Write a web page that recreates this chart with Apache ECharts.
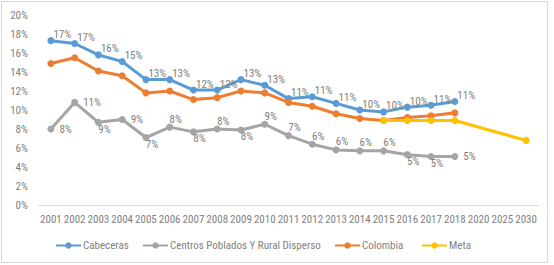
<!DOCTYPE html>
<html><head><meta charset="utf-8">
<script src="https://cdn.jsdelivr.net/npm/echarts@6/dist/echarts.min.js"></script>
<style>html,body{margin:0;padding:0;background:#fff}#c{width:554px;height:265px}
#c svg text, #c svg tspan{font-stretch:condensed !important;}</style>
</head><body><div id="c"></div>
<script>
const categories = ['2001','2002','2003','2004','2005','2006','2007','2008','2009','2010','2011','2012','2013','2014','2015','2016','2017','2018','2020','2025','2030'];
const cabeceras = [17.3,17.0,15.8,15.1,13.2,13.2,12.1,12.1,13.2,12.6,11.2,11.4,10.7,10.0,9.8,10.3,10.5,10.9,null,null,null];
const centros = [8.0,10.8,8.7,9.0,7.1,8.2,7.7,8.0,7.9,8.5,7.3,6.4,5.8,5.7,5.7,5.3,5.1,5.1,null,null,null];
const colombia = [14.9,15.5,14.1,13.6,11.8,12.0,11.1,11.3,12.0,11.8,10.8,10.4,9.6,9.1,8.9,9.2,9.4,9.7,null,null,null];
const meta = [null,null,null,null,null,null,null,null,null,null,null,null,null,null,8.9,8.9,8.9,8.9,null,null,6.8];
const yTicks = [0,2,4,6,8,10,12,14,16,18,20];
const seriesNames = ['Cabeceras','Centros Poblados Y Rural Disperso','Colombia','Meta'];

const FONT = 'Roboto, sans-serif';
const LABEL_COLOR = '#808080';
const COLORS = ['#5b9bd5','#a5a5a5','#ed7d31','#ffc000'];
// label placement for the gray series: r=right, b=below-right, a=above-right
const centrosPlace = ['r','r','b','r','b','a','b','a','b','a','a','a','a','a','a','b','b','r'];
const placeStyle = {
  r: {position:'right', offset:[0,0]},
  b: {position:'bottom', offset:[6,-7]},
  a: {position:'top', offset:[6,6]}
};
const fmt = p => Math.round(p.value) + '%';

const chart = echarts.init(document.getElementById('c'), null, {renderer:'svg'});
function mk(name, data, color, labels) {
  return {
    name, type:'line', data, connectNulls:true,
    symbol:'circle', symbolSize:7, showSymbol:true,
    lineStyle:{width:3, color}, itemStyle:{color},
    label: labels ? {show:true, color:LABEL_COLOR, fontFamily:FONT, fontSize:11, formatter:fmt} : {show:false},
    emphasis:{disabled:true}, animation:false
  };
}
const sCab = mk(seriesNames[0], cabeceras, COLORS[0], true);
sCab.label.position = 'right'; sCab.label.offset = [-6,-6];
const sCen = mk(seriesNames[1], centros.map((v,i)=>{
  if (v === null) return v;
  const st = placeStyle[centrosPlace[i]];
  return {value:v, label:{position:st.position, offset:st.offset}};
}), COLORS[1], true);
const sCol = mk(seriesNames[2], colombia, COLORS[2], false);
const sMeta = mk(seriesNames[3], meta, COLORS[3], false);

const legendLeft = [55, 142, 334, 421];
const legends = seriesNames.map((n,i)=>({
  data:[n], left:legendLeft[i], top:240, padding:0, itemWidth:25, itemHeight:8,
  textStyle:{color:'#7f7f7f', fontFamily:FONT, fontSize:11, padding:[0,0,0,-3]},
  selectedMode:false
}));

chart.setOption({
  animation:false,
  textStyle:{fontFamily:FONT},
  grid:{left:39, right:16, top:15, bottom:60},
  graphic:[{type:'rect', shape:{x:1.5,y:1.5,width:546,height:261}, style:{fill:'none', stroke:'#d9d9d9', lineWidth:1}, silent:true}],
  legend:legends,
  xAxis:{
    type:'category', data:categories, boundaryGap:true,
    axisLine:{lineStyle:{color:'#d9d9d9'}}, axisTick:{show:false},
    axisLabel:{color:'#7f7f7f', fontFamily:FONT, fontSize:11, interval:0, margin:9}
  },
  yAxis:{
    type:'value', min:0, max:20, interval:2,
    splitLine:{show:false}, axisLine:{show:false}, axisTick:{show:false},
    axisLabel:{color:'#7f7f7f', fontFamily:FONT, fontSize:11, margin:11, formatter:v=>yTicks.includes(v)? v+'%' : ''}
  },
  series:[sCab, sCen, sCol, sMeta]
});
</script></body></html>
